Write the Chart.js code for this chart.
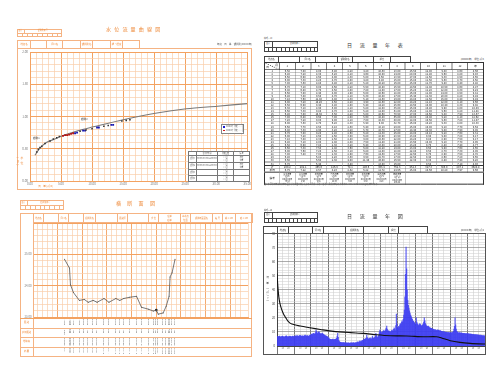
<!DOCTYPE html>
<html lang="ja">
<head>
<meta charset="utf-8">
<title>水文観測 様式</title>
<script src="https://cdn.jsdelivr.net/npm/chart.js@4.4.1/dist/chart.umd.min.js"></script>
<style>
  html, body { margin: 0; padding: 0; background: #fff; }
  body { width: 500px; height: 375px; position: relative; overflow: hidden;
         font-family: "Noto Sans CJK JP", "Noto Sans", sans-serif; }
  .a { position: absolute; box-sizing: border-box; }
  canvas { position: absolute; }
  .tb { border-collapse: collapse; table-layout: fixed; }
  .tb td { padding: 0; text-align: center; overflow: hidden; white-space: nowrap; border: 1.5px solid #555; }
</style>
</head>
<body>
<canvas id="curve" width="235" height="142" style="left:17px;top:48px"></canvas>
<canvas id="section" width="232" height="138" style="left:20px;top:219px"></canvas>
<canvas id="yearly" width="223" height="125" style="left:263px;top:230px"></canvas>
<script>
// ---- 水位流量曲線 ----
const curveQ = [0.8, 1.6, 2.7, 4.0, 5.2, 7.7, 10.2, 15.0, 20.2, 25.2, 30.2, 35.0];
const curveH = [0.40, 0.51, 0.60, 0.65, 0.70, 0.78, 0.84, 0.95, 1.05, 1.12, 1.16, 1.20];
const obsBlackQ = [1.08, 1.34, 1.61, 1.89, 2.42, 3.23, 3.76, 4.31, 4.73, 8.07, 9.03, 10.0, 11.9, 12.6, 14.8, 15.5, 16.1];
const obsBlackH = [0.45, 0.49, 0.52, 0.54, 0.58, 0.62, 0.65, 0.67, 0.69, 0.77, 0.79, 0.81, 0.85, 0.86, 0.93, 0.94, 0.95];
const obsRedQ = [5.32, 5.65, 5.97, 6.29, 6.61, 6.94];
const obsRedH = [0.70, 0.71, 0.71, 0.72, 0.73, 0.74];
const obsBlueQ = [7.26, 7.58, 8.55, 8.87, 10.8, 11.1, 13.1, 13.4];
const obsBlueH = [0.74, 0.75, 0.78, 0.78, 0.83, 0.83, 0.87, 0.87];

// ---- 横断面 ----
const secDist = [12.8, 14.8, 15.2, 16.4, 18.8, 20.8, 22.4, 24.4, 26.0, 28.8, 30.8, 33.6, 35.2, 36.8,
                 39.2, 42.0, 44.0, 46.8, 48.8, 50.0, 50.8, 52.8, 54.0, 55.2, 55.6, 56.4, 57.6];
const secElev = [24.84, 24.56, 24.03, 23.78, 23.53, 23.56, 23.47, 23.53, 23.47, 23.59, 23.47, 23.59, 23.53, 23.59,
                 23.63, 23.66, 23.31, 23.25, 23.19, 23.22, 23.09, 23.13, 23.34, 23.66, 24.28, 24.41, 24.84];
const wlDist = [50.0];
const wlElev = [23.22];

// ---- 日流量 (㎥/s) ----
const jan = [6.5, 6.8, 6.6, 6.9, 7.0, 6.7, 6.4, 6.6, 6.8, 7.1, 6.9, 6.5, 6.3, 6.6, 6.8, 7.0, 7.2, 6.9, 6.6, 6.4, 6.7, 6.9, 7.1, 6.8, 6.5, 6.6, 6.9, 7.0, 6.8, 6.6, 6.7];
const feb = [7.0, 7.2, 6.9, 7.3, 7.5, 7.1, 6.8, 7.0, 7.4, 7.6, 7.2, 6.9, 7.1, 7.3, 7.0, 6.8, 7.2, 7.5, 7.7, 7.3, 7.0, 7.2, 7.4, 7.1, 6.9, 7.3, 7.6, 7.8];
const mar = [8.0, 8.3, 8.6, 8.2, 8.8, 9.0, 8.7, 8.4, 9.5, 11.4, 10.2, 9.4, 8.9, 9.8, 10.3, 9.6, 9.0, 8.7, 8.5, 8.9, 9.2, 8.6, 8.3, 8.0, 7.8, 7.5, 7.2, 7.0, 6.8, 6.6, 6.4];
const apr = [5.8, 5.2, 4.9, 4.7, 4.8, 4.6, 4.5, 4.9, 4.7, 4.4, 4.6, 4.8, 5.0, 4.7, 5.5, 7.0, 9.0, 6.2, 4.1, 3.2, 2.8, 2.6, 2.5, 2.4, 2.3, 2.4, 2.5, 2.3, 2.2, 2.3];
const may = [2.2, 2.1, 2.3, 2.0, 2.1, 2.2, 2.0, 1.9, 2.1, 2.3, 2.2, 2.0, 2.1, 2.4, 2.2, 2.0, 2.1, 2.3, 2.5, 2.2, 2.6, 3.0, 2.8, 2.4, 3.2, 3.6, 3.1, 2.9, 3.5, 4.0, 3.8];
const jun = [4.2, 4.6, 5.0, 4.8, 5.2, 5.5, 7.8, 6.0, 5.3, 5.1, 4.9, 5.4, 5.8, 5.2, 5.0, 5.6, 7.0, 5.9, 5.4, 5.7, 6.2, 6.8, 9.0, 7.5, 6.4, 6.0, 6.8, 7.6, 9.5, 11.4];
const jul = [10.5, 10.0, 9.6, 9.8, 10.2, 10.8, 11.0, 10.6, 10.4, 11.5, 12.5, 14.2, 12.0, 11.0, 10.6, 10.8, 10.3, 9.9, 10.1, 10.7, 11.3, 10.9, 10.5, 11.8, 13.0, 12.2, 11.0, 14.5, 22.7, 16.0, 13.0];
const aug = [13.0, 14.0, 13.5, 15.0, 16.0, 15.5, 17.0, 18.0, 17.0, 19.0, 22.0, 25.6, 35.0, 51.0, 70.5, 55.0, 40.0, 32.7, 29.0, 27.0, 25.0, 23.5, 22.0, 21.0, 20.0, 19.0, 18.0, 17.5, 17.0, 16.5, 16.0];
const sep = [15.5, 20.0, 17.0, 15.8, 15.0, 14.6, 15.2, 16.0, 15.4, 14.8, 14.2, 14.6, 15.0, 15.8, 17.0, 20.0, 18.0, 16.0, 15.0, 14.4, 14.0, 13.8, 14.2, 13.6, 13.2, 13.0, 12.8, 12.6, 12.5, 12.3];
const oct = [12.0, 11.8, 11.6, 11.5, 11.7, 11.4, 11.2, 11.0, 11.3, 11.5, 11.1, 10.9, 10.8, 11.0, 10.6, 10.4, 10.5, 10.2, 10.0, 10.3, 10.1, 9.9, 9.8, 10.0, 9.7, 9.6, 9.5, 9.7, 9.4, 9.3, 9.5];
const nov = [9.4, 9.6, 9.3, 9.5, 9.8, 10.5, 12.0, 14.0, 20.0, 15.0, 12.0, 10.4, 9.9, 9.6, 9.4, 9.2, 9.5, 9.3, 9.1, 9.4, 9.2, 9.0, 8.9, 9.1, 8.8, 9.0, 8.7, 8.9, 8.6, 8.8];
const dec = [8.6, 8.8, 8.5, 8.7, 8.4, 8.6, 8.3, 8.5, 8.2, 8.4, 8.1, 8.3, 8.0, 8.2, 7.9, 8.1, 7.8, 8.0, 7.7, 7.9, 7.6, 7.8, 7.5, 7.7, 7.4, 7.6, 7.3, 7.5, 7.2, 7.4, 7.1];
const monthFlows = [jan, feb, mar, apr, may, jun, jul, aug, sep, oct, nov, dec];

// 流況曲線 (日, ㎥/s)
const durDay = [0, 2, 4, 7, 11, 15, 20, 26, 41, 58, 76, 99, 129, 152, 175, 199, 228, 257, 280, 289, 304, 321, 339, 362, 365];
const durQ = [51.6, 39.8, 32.7, 27.5, 23.2, 20.4, 17.3, 15.6, 14.2, 13.0, 11.8, 10.4, 9.5, 9.0, 8.0, 7.3, 7.1, 6.6, 6.6, 5.7, 3.8, 2.6, 1.9, 1.4, 1.4];

const monthNames = ['1月', '2月', '3月', '4月', '5月', '6月', '7月', '8月', '9月', '10月', '11月', '12月'];
const tblCols = ['1', '2', '3', '4', '5', '6', '7', '8', '9', '10', '11', '12', '年'];
const statNames = ['最大流量', '最小流量', '平均流量', '豊水流量', '平水流量', '低水流量', '渇水流量', '年総流量'];

const OR = '#f5b383', ORG = '#f3a261', ORM = '#f9cfab', ORT = '#ee8a3a';
Chart.defaults.font.family = '"Noto Sans CJK JP", sans-serif';

function el(x, y, w, h, css, html) {
  const d = document.createElement('div');
  d.className = 'a';
  d.style.left = x + 'px';
  d.style.top = y + 'px';
  if (w != null) d.style.width = w + 'px';
  if (h != null) d.style.height = h + 'px';
  if (css) d.style.cssText += css;
  if (html) d.innerHTML = html;
  document.body.appendChild(d);
  return d;
}

function cells(xs, y, h, labels, bc, tc, fs, bg) {
  for (let i = 0; i < xs.length - 1; i++) {
    const lab = labels[i] || '';
    const lh = lab.indexOf('<br>') >= 0 ? (h / 2 - 0.5) : (h - 1);
    el(xs[i], y, xs[i + 1] - xs[i] + 1, h + 1,
      `border:1px solid ${bc};color:${tc};font-size:${fs || 2.6}px;line-height:${lh}px;text-align:center;overflow:hidden;white-space:nowrap;` + (bg ? 'background:' + bg : ''),
      lab);
  }
}

function idBox(x, y, w, h, n, bc, tc) {
  el(x, y, w, h, `border:1px solid ${bc}`);
  el(x, y + h / 2, w, 1, `border-top:1px solid ${bc}`);
  el(x + w * 0.15, y, 1, h / 2, `border-left:1px solid ${bc}`);
  for (let i = 1; i < n; i++) el(x + i * w / n, y + h / 2, 1, h / 2, `border-left:1px solid ${bc}`);
  el(x, y, w * 0.15, h / 2, `font-size:1.8px;color:${tc};text-align:center;line-height:${h / 2}px`, '区分');
  el(x + w * 0.15, y, w * 0.85, h / 2, `font-size:2px;color:${tc};text-align:center;line-height:${h / 2}px`, '観測所番号');
}

function title(x, y, s, col, sp) {
  el(x, y, null, null, `font-size:5px;line-height:6px;color:${col};letter-spacing:${sp}px;white-space:nowrap`, s);
}

// ============ 1. 水位流量曲線図 ============
idBox(17, 29, 45, 8, 9, OR, ORT);
title(106, 26, '水位流量曲線図', ORT, 3.2);
cells([17, 30, 46, 62, 80, 92, 110, 122, 139], 40, 8, ['地点名', '', '河川名', '', '観測所名', '', '緯・経度', ''], OR, ORT, 2.4);
el(17, 48, 235, 142, `border:1px solid ${OR}`);
el(190, 42, 62, 4, 'font-size:2.4px;line-height:4px;color:#555;text-align:right;white-space:nowrap', '年度　日　等　観測所(OOOO年)');
el(20, 157, 4, 16, `font-size:2.8px;color:${ORT};writing-mode:vertical-rl;letter-spacing:2px`, '水位(m)');
el(38, 183.5, 20, 4, `font-size:2.6px;color:${ORT};white-space:nowrap`, '流　量 (㎥/s)');
el(33, 136, 12, 4, 'font-size:2.6px;color:#333;white-space:nowrap', '観測1');
el(81, 116.5, 12, 4, 'font-size:2.6px;color:#333;white-space:nowrap', '観測2');
// 凡例
el(221, 124, 23, 9.5, 'border:1px solid #888;background:#fff');
el(223, 126, 1.8, 1.8, 'background:#1a1ad0');
el(223, 129.5, 1.8, 1.8, 'background:#d01a1a');
el(226, 125.2, 17, 3, 'font-size:1.9px;color:#555;white-space:nowrap', 'OOOO年 測定 ○○回');
el(226, 128.7, 17, 3, 'font-size:1.9px;color:#555;white-space:nowrap', 'OOOO年 測定 ○○回');
// 観測期間表
const ct = [188, 196, 217, 233, 249];
cells(ct, 151, 4, ['', '観 測 期 間', '測定回数', '備 考'], '#777', '#444', 1.8, '#fff');
cells(ct, 155, 7, ['観測1', 'OOOO.OO.OO～OOOO.OO.OO', '○ 回<br>○ 回', '水位<br>流量'], '#777', '#444', 1.8, '#fff');
cells(ct, 162, 7, ['観測2', 'OOOO.OO.OO～OOOO.OO.OO', '○ 回<br>○ 回', '水位<br>流量'], '#777', '#444', 1.8, '#fff');
cells(ct, 169, 6, ['観測3', '', '○ 回<br>○ 回', ''], '#777', '#444', 1.8, '#fff');
cells(ct, 175, 6, ['観測4', '', '○ 回<br>○ 回', ''], '#777', '#444', 1.8, '#fff');

const pts = (xs, ys) => xs.map((v, i) => ({ x: v, y: ys[i] }));
const major5 = v => Math.abs(v / 5 - Math.round(v / 5)) < 1e-6;
const majorH = v => Math.round(v * 10) % 5 === 0;

new Chart(document.getElementById('curve'), {
  type: 'scatter',
  data: {
    datasets: [
      { type: 'line', data: pts(curveQ, curveH), borderColor: '#7a7a7a', borderWidth: 1.1, pointRadius: 0, tension: 0.3, order: 3 },
      { data: pts(obsBlackQ, obsBlackH), backgroundColor: '#333', borderWidth: 0, pointStyle: 'rect', pointRadius: 1.1, order: 1 },
      { data: pts(obsRedQ, obsRedH), backgroundColor: '#b01010', borderWidth: 0, pointStyle: 'rect', pointRadius: 1.3, order: 1 },
      { data: pts(obsBlueQ, obsBlueH), backgroundColor: '#1515b0', borderWidth: 0, pointStyle: 'rect', pointRadius: 1.3, order: 1 }
    ]
  },
  options: {
    responsive: false,
    animation: false,
    layout: { padding: { top: 3, right: 2, left: 0, bottom: 0 } },
    plugins: { legend: { display: false }, tooltip: { enabled: false } },
    scales: {
      x: {
        type: 'linear', min: 0, max: 35,
        afterFit: s => { s.height = 9; },
        ticks: { stepSize: 1, autoSkip: false, maxRotation: 0, font: { size: 3 }, color: '#777', padding: 1,
                 callback: v => (major5(v) ? v.toFixed(2) : '') },
        grid: { drawTicks: false, color: c => (major5(c.tick.value) ? ORG : ORM), lineWidth: c => (major5(c.tick.value) ? 1 : 0.7) },
        border: { color: ORG }
      },
      y: {
        min: 0, max: 2,
        afterFit: s => { s.width = 13; },
        ticks: { stepSize: 0.1, autoSkip: false, font: { size: 3 }, color: '#777', padding: 2,
                 callback: v => (majorH(v) ? v.toFixed(2) : '') },
        grid: { drawTicks: false, color: c => (majorH(c.tick.value) ? ORG : ORM), lineWidth: c => (majorH(c.tick.value) ? 1 : 0.7) },
        border: { color: ORG }
      }
    }
  }
});

// ============ 2. 日流量年表 ============
el(264, 37, 20, 3, 'font-size:2px;color:#444;white-space:nowrap', '様式－13');
idBox(264, 41, 54, 11, 13, '#444', '#333');
title(347, 42, '日流量年表', '#333', 7.7);
cells([264, 278, 299, 315, 337, 352, 373, 390, 410], 56, 6, ['地点名', '', '河川名', '', '観測所名', '', '緯度', ''], '#444', '#333', 2.2);
el(420, 57, 64, 4, 'font-size:2.4px;line-height:4px;color:#444;text-align:right;white-space:nowrap', '(OOOO年)　単位 ㎥/s');

const allFlows = [].concat(...monthFlows);
const sorted = allFlows.slice().sort((a, b) => b - a);
const mean = arr => arr.reduce((s, v) => s + v, 0) / arr.length;
const statVals = [
  Math.max(...allFlows), Math.min(...allFlows), mean(allFlows),
  sorted[94], sorted[184], sorted[274], sorted[354],
  allFlows.reduce((s, v) => s + v, 0) * 86400 / 1e6
];

let h = '<table class="tb" style="width:660px;font-size:8px;line-height:8px;color:#222;border:3px solid #333">';
h += '<colgroup><col style="width:45px">' + '<col>'.repeat(13) + '</colgroup>';
h += '<tr style="height:21px"><td style="border:2px solid #333;background:linear-gradient(to top right,transparent calc(50% - 1px),#333,transparent calc(50% + 1px));position:relative">'
   + '<span style="position:absolute;right:4px;top:2px">月</span><span style="position:absolute;left:4px;bottom:2px">日</span></td>'
   + tblCols.map(c => `<td style="border:2px solid #333">${c}</td>`).join('') + '</tr>';
for (let d = 0; d < 31; d++) {
  const bb = (d + 1) % 5 === 0 ? 'border-bottom:2.5px solid #333;' : '';
  const row = monthFlows.map(m => m[d]).filter(v => v !== undefined);
  h += '<tr style="height:9.1px">' + `<td style="${bb}">${d + 1}</td>`;
  monthFlows.forEach(m => { h += `<td style="${bb}">${m[d] === undefined ? '' : m[d].toFixed(2)}</td>`; });
  h += `<td style="${bb}">${mean(row).toFixed(2)}</td></tr>`;
}
h += '<tr style="height:7.5px"><td style="border-top:3px solid #333">計</td>'
   + monthFlows.map(m => `<td style="border-top:3px solid #333">${m.reduce((s, v) => s + v, 0).toFixed(1)}</td>`).join('')
   + `<td style="border-top:3px solid #333">${allFlows.reduce((s, v) => s + v, 0).toFixed(1)}</td></tr>`;
h += '<tr style="height:7.5px"><td>平均</td>' + monthFlows.map(m => `<td>${mean(m).toFixed(2)}</td>`).join('')
   + `<td>${mean(allFlows).toFixed(2)}</td></tr>`;
h += '<tr style="height:33px"><td style="border-top:3px solid #333">備考</td>'
   + statNames.map((s, i) => `<td style="border-top:3px solid #333;vertical-align:top;line-height:7.5px;font-size:6px">${s}<br>${i === 7 ? '(10<sup>6</sup>㎥)' : '(㎥/s)'}<br>OO月OO日<br>${statVals[i].toFixed(2)}</td>`).join('')
   + '<td colspan="5" style="border-top:3px solid #333"></td></tr>';
h += '</table>';
el(264, 62, 660, null, 'transform:scale(0.33333);transform-origin:0 0', h);
el(264, 182.8, 200, 3, 'font-size:1.9px;color:#555;white-space:nowrap', '注）年平均流量は日流量の合計を年日数で除したもの。豊水・平水・低水・渇水流量はそれぞれ95・185・275・355日目の流量である。');

// ============ 3. 横断面図 ============
idBox(20, 200, 44, 10, 9, OR, ORT);
title(116, 200, '横断面図', ORT, 6.3);
el(20, 213, 232, 144, `border:1px solid ${OR}`);
cells([33, 43, 58, 68, 83, 95, 117, 127, 148, 158, 180, 190, 212, 222, 235, 252], 213, 9,
  ['地点名', '', '河川名', '', '観測所名', '', '距離標', '', '水 位', '左岸<br>右岸', '基準点<br>位置', '観測断面図名', '縮 尺', '縦 1:100', '横 1:100'], OR, ORT, 2.2);
el(33, 213, 1, 144, `border-left:1px solid ${OR}`);
el(20, 317.5, 232, 1.5, `border-top:1.5px solid ${ORG}`);
[327.5, 337, 346.5].forEach(y => el(20, y, 232, 1, `border-top:1px solid ${OR}`));
[['距 離', 320], ['追加距離', 329.5], ['地盤高', 339], ['摘 要', 348.5]].forEach(([s, y]) =>
  el(20, y, 13, 4, `font-size:2.3px;color:${ORT};text-align:center;white-space:nowrap`, s));

const secText = {
  id: 'secText',
  afterDraw(chart) {
    const { ctx, scales: { x } } = chart;
    const rows = [
      [99.5, secDist.map(v => v.toFixed(2))],
      [109, secDist.map((v, i) => (i ? v - secDist[i - 1] : v).toFixed(2))],
      [118.5, secElev.map(v => v.toFixed(3))],
      [128, secDist.map((v, i) => 'No.' + (i + 1))]
    ];
    ctx.save();
    ctx.fillStyle = '#555';
    ctx.font = '2.3px "Noto Sans", sans-serif';
    secDist.forEach((d, i) => {
      const px = x.getPixelForValue(d);
      rows.forEach(([top, arr]) => {
        ctx.save();
        ctx.translate(px - 0.8, top + 0.6);
        ctx.rotate(Math.PI / 2);
        ctx.fillText(arr[i], 0, 0);
        ctx.restore();
      });
    });
    ctx.restore();
  }
};

const major10 = v => Math.abs(v / 10 - Math.round(v / 10)) < 1e-6;
const majorE = v => Math.round(v * 5) % 5 === 0;

new Chart(document.getElementById('section'), {
  type: 'line',
  data: {
    datasets: [
      { data: pts(secDist, secElev), borderColor: '#555', borderWidth: 0.8, pointRadius: 0.5, pointBackgroundColor: '#555', pointBorderWidth: 0 },
      { data: pts(wlDist, wlElev), borderWidth: 0, pointRadius: 1.3, pointBackgroundColor: '#111', pointBorderWidth: 0 }
    ]
  },
  options: {
    responsive: false,
    animation: false,
    layout: { padding: { top: 3, right: 1, left: 0, bottom: 0 } },
    plugins: { legend: { display: false }, tooltip: { enabled: false } },
    scales: {
      x: {
        type: 'linear', min: 0, max: 87.2,
        afterFit: s => { s.height = 40; },
        ticks: { stepSize: 2, display: false },
        grid: { drawTicks: false, color: c => (major10(c.tick.value) ? ORG : ORM), lineWidth: c => (major10(c.tick.value) ? 0.9 : 0.7) },
        border: { color: ORG }
      },
      y: {
        min: 23, max: 26,
        afterFit: s => { s.width = 13; },
        ticks: { stepSize: 0.2, autoSkip: false, font: { size: 2.8 }, color: '#777', padding: 1.5,
                 callback: v => (majorE(v) && v < 25.9 ? v.toFixed(2) : '') },
        grid: { drawTicks: false, color: c => (majorE(c.tick.value) ? ORG : ORM), lineWidth: c => (majorE(c.tick.value) ? 1 : 0.7) },
        border: { color: ORG }
      }
    }
  },
  plugins: [secText]
});

// ============ 4. 日流量年図 ============
el(264, 208.5, 20, 3, 'font-size:2px;color:#444;white-space:nowrap', '様式－14');
idBox(264, 212, 54, 11, 13, '#444', '#333');
title(347, 213, '日流量年図', '#333', 7.7);
cells([263, 277, 288, 312, 323, 345, 363, 388, 398, 427], 226, 7, ['', '地点名', '', '河川名', '', '観測所名', '', '緯度', ''], '#444', '#333', 2.2);
el(263, 233, 223, 122, 'border:1px solid #555');
el(420, 227.5, 64, 4, 'font-size:2.4px;line-height:4px;color:#444;text-align:right;white-space:nowrap', '(OOOO年)　単位 ㎥/s');
el(265.5, 276, 4, 26, 'font-size:2.6px;color:#444;writing-mode:vertical-rl;letter-spacing:1.5px;white-space:nowrap', '流 量 (㎥/s)');

const monthStart = [];
let acc = 0;
monthFlows.forEach(m => { monthStart.push(acc); acc += m.length; });
const dayTicks = [], dayTickText = {}, boundary = {};
monthStart.forEach(s => {
  dayTicks.push(s, s + 10, s + 20);
  boundary[s] = true;
  dayTickText[s + 10] = '10';
  dayTickText[s + 20] = '20';
});
dayTicks.push(acc);
boundary[acc] = true;
const monthMid = monthStart.map((s, i) => s + monthFlows[i].length / 2);

new Chart(document.getElementById('yearly'), {
  type: 'bar',
  data: {
    datasets: [
      { type: 'line', data: pts(durDay, durQ), borderColor: '#111', borderWidth: 1.1, pointRadius: 0, tension: 0.25, order: 0 },
      { type: 'bar', data: allFlows.map((v, i) => ({ x: i + 0.5, y: v })), backgroundColor: 'rgba(60,60,240,0.8)',
        borderWidth: 0, barPercentage: 1, categoryPercentage: 1, order: 1 }
    ]
  },
  options: {
    responsive: false,
    animation: false,
    layout: { padding: { top: 3, right: 1, left: 0, bottom: 0 } },
    plugins: { legend: { display: false }, tooltip: { enabled: false } },
    scales: {
      x: {
        type: 'linear', min: 0, max: 365, offset: false,
        afterBuildTicks: s => { s.ticks = dayTicks.map(v => ({ value: v })); },
        afterFit: s => { s.height = 4.5; },
        ticks: { autoSkip: false, maxRotation: 0, font: { size: 2.2 }, color: '#555', padding: -8.2,
                 callback: v => dayTickText[v] || '' },
        grid: { offset: false, tickLength: 9,
                color: c => (boundary[c.tick.value] ? '#555' : '#c4c4c4'),
                lineWidth: c => (boundary[c.tick.value] ? 0.8 : 0.5),
                tickColor: c => (boundary[c.tick.value] ? '#555' : 'rgba(0,0,0,0)') },
        border: { color: '#444' }
      },
      xm: {
        type: 'linear', position: 'bottom', min: 0, max: 365, offset: false,
        afterBuildTicks: s => { s.ticks = monthMid.map(v => ({ value: v })); },
        afterFit: s => { s.height = 4.5; },
        grid: { display: false },
        border: { display: false },
        ticks: { autoSkip: false, maxRotation: 0, font: { size: 2.3 }, color: '#555', padding: 0.5,
                 callback: (v, i) => monthNames[i] }
      },
      y: {
        min: 0, max: 80,
        afterFit: s => { s.width = 14; },
        ticks: { stepSize: 2, autoSkip: false, font: { size: 2.8 }, color: '#444', padding: 2,
                 callback: v => (v % 10 === 0 ? String(v) : '') },
        grid: { drawTicks: false, color: c => (c.tick.value % 10 === 0 ? '#8a8a8a' : '#cdcdcd'),
                lineWidth: c => (c.tick.value % 10 === 0 ? 0.7 : 0.5) },
        border: { color: '#444' }
      }
    }
  }
});
</script>
</body>
</html>
